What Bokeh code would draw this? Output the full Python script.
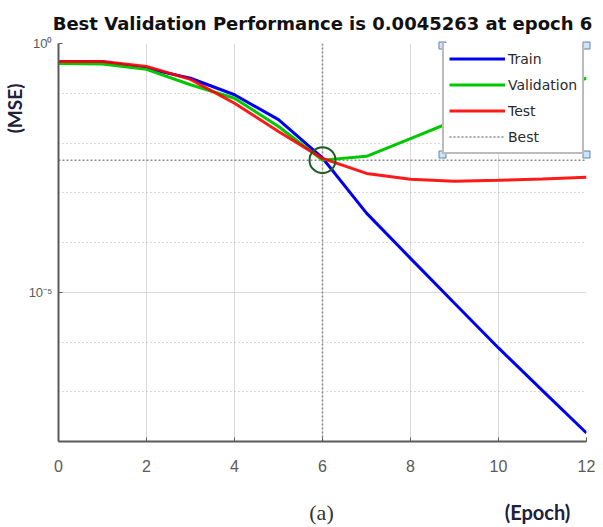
import math
from bokeh.plotting import figure
from bokeh.layouts import column, row
from bokeh.models import (FixedTicker, Legend, LegendItem, Label,
                          CustomJSTickFormatter, Range1d)
from bokeh.embed import file_html
from bokeh.resources import INLINE

# ---- data ----
epochs = [0, 1, 2, 3, 4, 5, 6, 7, 8, 9, 10, 11, 12]
train_mse = [0.437, 0.430, 0.316, 0.200, 0.0933, 0.0295, 0.00500,
             3.9e-4, 4.8e-5, 6.0e-6, 7.6e-7, 1.05e-7, 1.48e-8]
val_mse = [0.398, 0.389, 0.302, 0.148, 0.0794, 0.0214, 0.0045263,
           0.0054, 0.0123, 0.028, 0.060, 0.11, 0.20]
test_mse = [0.437, 0.437, 0.347, 0.190, 0.0631, 0.0170, 0.0049,
            0.00245, 0.00186, 0.00170, 0.00178, 0.00190, 0.00204]
best_epoch = 6
best_val = 0.0045263
x_lim = [0, 12]
y_lim = [1e-8, 1e0]
x_ticks = [0, 2, 4, 6, 8, 10, 12]
y_major = [1e-5, 1e0]
y_minor = [1e-8, 1e-7, 1e-6, 1e-4, 1e-3, 1e-2, 1e-1]
title_text = "Best Validation Performance is 0.0045263 at epoch 6"
y_label = "(MSE)"
x_label = "(Epoch)"
panel_tag = "(a)"

LEFT_W = 25
FW, FH = 528, 398          # frame size in px
BOT_H = 45

p = figure(frame_width=FW, frame_height=FH, output_backend="svg",
           toolbar_location=None, y_axis_type="log",
           x_range=Range1d(*x_lim), y_range=Range1d(*y_lim),
           min_border_left=30, min_border_right=15, min_border_top=42,
           min_border_bottom=40, title=title_text)
p.outline_line_color = None
p.background_fill_color = "white"

p.title.text_font = "DejaVu Sans"
p.title.text_font_size = "18px"
p.title.text_font_style = "bold"
p.title.text_color = "#111111"
p.title.align = "center"
p.title.standoff = 20
p.title.offset = -8

# axes
for ax in (p.xaxis[0], p.yaxis[0]):
    ax.axis_line_color = "#5a5a5a"
    ax.axis_line_width = 2
    ax.major_tick_line_color = "#5a5a5a"
    ax.major_tick_in = 4
    ax.major_tick_out = 0
    ax.minor_tick_line_color = None
    ax.major_label_text_font = "Liberation Sans"
    ax.major_label_text_font_size = "16px"
    ax.major_label_text_color = "#5a5a5a"

p.xaxis.ticker = FixedTicker(ticks=x_ticks)
p.xaxis.major_label_standoff = 18
p.yaxis.ticker = FixedTicker(ticks=y_major, minor_ticks=y_minor)
p.yaxis.formatter = CustomJSTickFormatter(code="""
const e = Math.round(Math.log10(tick));
return e == 0 ? '10\u2070' : (e == -5 ? '10\u207b\u2075' : '');
""")
p.yaxis.major_label_text_font_size = "13px"
p.yaxis.major_label_standoff = 2

# grids
p.xgrid.grid_line_color = "#dadada"
p.xgrid.grid_line_width = 1
p.ygrid.grid_line_color = "#dadada"
p.ygrid.minor_grid_line_color = "#b0b0b0"
p.ygrid.minor_grid_line_dash = "1 3"

# best lines
r_best = p.line(x_lim, [best_val, best_val], line_color="#8a8a8a",
                line_dash="2 2", line_width=1.5)
p.line([best_epoch, best_epoch], y_lim, line_color="#8a8a8a",
       line_dash="2 2", line_width=1.5)

r_train = p.line(epochs, train_mse, line_color="#0000ee", line_width=3)
r_val = p.line(epochs, val_mse, line_color="#00c800", line_width=3)
r_test = p.line(epochs, test_mse, line_color="#ff0000", line_width=3, line_alpha=0.9)

p.scatter([best_epoch], [best_val], size=26, fill_alpha=0, line_color="#1e5e24",
          line_width=2)

# legend
LX, LY, LW, LH = 384, 287, 144, 109
legend = Legend(items=[LegendItem(label="Train", renderers=[r_train]),
                       LegendItem(label="Validation", renderers=[r_val]),
                       LegendItem(label="Test", renderers=[r_test]),
                       LegendItem(label="Best", renderers=[r_best])],
                location=(LX, LY))
legend.border_line_color = "#777777"
legend.border_line_width = 2
legend.background_fill_alpha = 1
legend.margin = 0
legend.padding = 5
legend.spacing = 5
legend.glyph_width = 56
legend.glyph_height = 21
legend.label_height = 21
legend.label_standoff = 3
legend.label_text_font = "DejaVu Sans"
legend.label_text_font_size = "14px"
legend.label_text_color = "#2a2a2a"
p.add_layout(legend)

# legend selection handles (decoration, placed from the legend box geometry)
def px_to_x(px):
    return x_lim[0] + px / FW * (x_lim[1] - x_lim[0])
def px_to_y(py):
    return 10 ** (-8 + py / FH * 8)
hx = [px_to_x(LX), px_to_x(LX + LW), px_to_x(LX), px_to_x(LX + LW)]
hy = [px_to_y(LY), px_to_y(LY), px_to_y(LY + LH), px_to_y(LY + LH)]
p.scatter(hx, hy, marker="square", size=7, fill_color="#cfe3f5",
          line_color="#5b86b0", line_width=1, level="overlay")


def text_strip(w, h):
    f = figure(width=w, height=h, output_backend="svg", toolbar_location=None,
               x_range=Range1d(0, w), y_range=Range1d(0, h),
               x_axis_location=None, y_axis_location=None, min_border=0)
    f.outline_line_color = None
    f.xgrid.visible = False
    f.ygrid.visible = False
    return f


# left strip with the y label (its frame is aligned with the main frame)
p_left = text_strip(LEFT_W, 42 + FH + 40)
p_left.add_layout(Label(x=14, y=FH - 66, x_units="screen", y_units="screen",
                        text=y_label, angle=math.pi / 2, text_align="center",
                        text_baseline="middle", text_font="Lato",
                        text_font_style="bold", text_font_size="19px",
                        text_color="#20203a"))

# bottom strip with the x label and the panel tag
p_bot = text_strip(600, BOT_H)
p_bot.add_layout(Label(x=537, y=15, x_units="screen", y_units="screen", text=x_label,
                       text_align="center", text_baseline="middle", text_font="Lato",
                       text_font_style="bold", text_font_size="20px",
                       text_color="#20203a"))
p_bot.add_layout(Label(x=321, y=14, x_units="screen", y_units="screen", text=panel_tag,
                       text_align="center", text_baseline="middle",
                       text_font="Liberation Serif", text_font_size="22px",
                       text_color="#333333"))

layout = column(row(p_left, p, spacing=0), p_bot, spacing=0)
open("out.html", "w").write(file_html(layout, INLINE))
